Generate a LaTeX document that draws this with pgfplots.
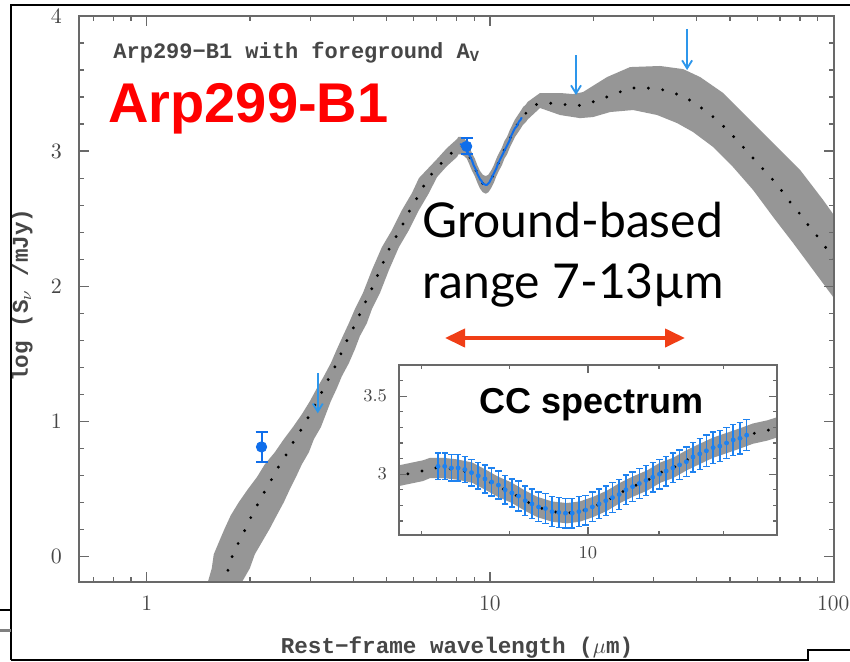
\documentclass[border=0pt]{standalone}
\usepackage{pgfplots}
\pgfplotsset{compat=1.18}
\usepackage{pgfplotstable}
\usetikzlibrary{arrows.meta}
\usepackage{fontspec}
\newfontfamily\monofont{Liberation Mono}
\newfontfamily\arialfont{Liberation Sans}
\newfontfamily\gillfont{Lato}
\definecolor{bandgray}{RGB}{150,150,150}
\definecolor{axgray}{RGB}{105,105,105}
\definecolor{ptblue}{RGB}{15,110,235}
\definecolor{arrblue}{RGB}{45,150,235}
\definecolor{errblue}{RGB}{30,130,240}
\definecolor{arrred}{RGB}{240,62,22}
\definecolor{txtgray}{RGB}{70,70,70}

% model: central (dotted) curve
\pgfplotstableread{
x y
1.600 -0.300
1.666 -0.193
1.734 -0.089
1.781 0.015
1.854 0.104
1.944 0.207
2.024 0.304
2.121 0.400
2.223 0.496
2.330 0.585
2.442 0.681
2.577 0.770
2.701 0.867
2.850 0.956
2.987 1.052
3.131 1.148
3.281 1.244
3.417 1.333
3.580 1.430
3.727 1.533
3.881 1.630
4.068 1.726
4.235 1.830
4.468 1.948
4.778 2.119
5.110 2.289
5.466 2.415
5.845 2.563
6.251 2.689
6.597 2.800
7.007 2.874
7.491 2.956
8.013 3.022
8.09 3.04
8.23 3.04
8.39 3.03
8.56 3.01
8.73 2.96
8.86 2.92
9.03 2.88
9.19 2.83
9.34 2.79
9.53 2.76
9.72 2.75
9.89 2.76
10.07 2.79
10.26 2.83
10.44 2.88
10.62 2.92
10.83 2.96
11.02 3.01
11.21 3.04
11.42 3.09
11.62 3.13
11.83 3.17
12.05 3.20
12.27 3.23
12.48 3.26
12.72 3.28
12.89 3.30
13.35 3.341
14.66 3.356
16.21 3.348
17.81 3.333
19.56 3.356
21.50 3.393
23.46 3.430
25.77 3.467
28.50 3.467
31.30 3.459
34.40 3.430
37.78 3.385
40.95 3.326
44.39 3.259
47.47 3.193
51.10 3.111
54.66 3.030
58.04 2.956
62.09 2.874
66.41 2.793
70.55 2.711
74.93 2.622
79.59 2.541
84.54 2.452
89.82 2.370
95.41 2.281
101.4 2.193
}\modelmid

% model: uncertainty band, upper edge left to right then lower edge right to left
\pgfplotstableread{
x y
1.430 -0.400
1.506 -0.193
1.547 -0.089
1.568 0.015
1.622 0.104
1.688 0.207
1.758 0.304
1.854 0.400
1.970 0.496
2.093 0.585
2.208 0.681
2.361 0.770
2.508 0.867
2.665 0.956
2.831 1.052
2.987 1.148
3.131 1.244
3.281 1.333
3.438 1.430
3.580 1.533
3.727 1.630
3.881 1.726
4.041 1.830
4.263 1.948
4.529 2.119
4.843 2.289
5.180 2.415
5.539 2.563
5.924 2.689
6.209 2.800
7.007 2.941
7.491 3.022
8.013 3.089
8.09 3.105
8.23 3.105
8.39 3.095
8.56 3.075
8.73 3.025
8.86 2.985
9.03 2.945
9.19 2.895
9.34 2.855
9.53 2.825
9.72 2.815
9.89 2.825
10.07 2.855
10.26 2.895
10.44 2.945
10.62 2.985
10.83 3.025
11.02 3.075
11.21 3.105
11.42 3.155
11.62 3.195
11.83 3.235
12.05 3.265
12.27 3.295
12.48 3.325
12.72 3.345
12.89 3.365
13.99 3.430
16.00 3.430
17.46 3.422
18.67 3.437
21.93 3.548
25.60 3.622
31.30 3.630
36.53 3.607
40.95 3.548
47.79 3.430
56.15 3.252
66.86 3.059
80.13 2.859
93.49 2.637
101.4 2.511
106 2.44
106 1.80
100.0 1.919
87.42 2.119
76.44 2.319
66.86 2.511
58.46 2.711
51.10 2.881
44.68 3.030
39.07 3.141
35.10 3.207
30.69 3.267
26.12 3.304
22.38 3.289
19.97 3.252
18.30 3.244
16.00 3.267
13.99 3.319
12.89 3.235
12.72 3.215
12.48 3.195
12.27 3.165
12.05 3.135
11.83 3.105
11.62 3.065
11.42 3.025
11.21 2.975
11.02 2.945
10.83 2.895
10.62 2.855
10.44 2.815
10.26 2.765
10.07 2.725
9.89 2.695
9.72 2.685
9.53 2.695
9.34 2.725
9.19 2.765
9.03 2.815
8.86 2.855
8.73 2.895
8.56 2.945
8.39 2.965
8.23 2.975
8.09 2.975
8.013 2.956
7.491 2.889
7.007 2.807
6.639 2.689
6.209 2.563
5.805 2.415
5.429 2.289
5.076 2.119
4.778 1.948
4.529 1.830
4.379 1.726
4.178 1.630
4.041 1.533
3.881 1.430
3.702 1.333
3.580 1.244
3.438 1.148
3.326 1.052
3.216 0.956
3.069 0.867
2.967 0.770
2.831 0.681
2.719 0.585
2.611 0.496
2.508 0.400
2.393 0.304
2.285 0.207
2.164 0.104
2.065 0.015
1.997 -0.089
1.892 -0.193
1.685 -0.400
}\modelband

% CC spectrum (ground-based)
\pgfplotstableread{
x y e
8.176 3.05 0.085
8.250 3.05 0.085
8.325 3.04 0.085
8.400 3.04 0.085
8.476 3.03 0.085
8.553 3.01 0.085
8.630 2.99 0.085
8.708 2.97 0.09
8.787 2.95 0.09
8.867 2.93 0.09
8.947 2.90 0.09
9.028 2.88 0.09
9.110 2.86 0.095
9.192 2.83 0.095
9.275 2.81 0.095
9.359 2.79 0.095
9.444 2.78 0.095
9.529 2.76 0.095
9.616 2.755 0.095
9.703 2.75 0.095
9.791 2.75 0.095
9.879 2.76 0.095
9.969 2.77 0.095
10.059 2.79 0.095
10.150 2.81 0.095
10.242 2.83 0.095
10.335 2.85 0.095
10.428 2.87 0.095
10.523 2.90 0.095
10.618 2.92 0.095
10.714 2.94 0.095
10.811 2.96 0.095
10.909 2.98 0.095
11.008 3.00 0.095
11.107 3.02 0.095
11.208 3.04 0.095
11.309 3.06 0.095
11.412 3.08 0.095
11.515 3.11 0.095
11.619 3.13 0.1
11.724 3.15 0.1
11.830 3.17 0.1
11.937 3.18 0.1
12.045 3.20 0.1
12.154 3.22 0.1
12.264 3.23 0.1
12.375 3.25 0.1
}\ccdata

\begin{document}
\begin{tikzpicture}[x=1pt,y=1pt]
\useasboundingbox (0,0) rectangle (425,330.5);
\fill[white] (0,0) rectangle (425,330.5);

\begin{axis}[
  at={(39.5pt,39.5pt)}, anchor=south west, scale only axis,
  width=377.5pt, height=283pt,
  xmode=log, xmin=0.635, xmax=100.5, ymin=-0.19, ymax=4,
  xtick={1,10,100}, xticklabels={1,10,100},
  minor xtick={0.7,0.8,0.9,2,3,4,5,6,7,8,9,20,30,40,50,60,70,80,90},
  ytick={0,1,2,3,4}, minor y tick num=4,
  xtick pos=both, ytick pos=both, tick align=inside,
  major tick length=5pt, minor tick length=2.5pt,
  axis line style={axgray, line width=0.8pt},
  every tick/.style={axgray, line width=0.6pt},
  tick label style={font=\fontsize{11}{13}\selectfont, text=txtgray},
  xticklabel shift=3.5pt, yticklabel shift=5pt,
  axis on top,
]
\addplot[fill=bandgray, draw=none] table {\modelband} -- cycle;
\addplot[black, line width=1.6pt, line cap=round, dash pattern=on 0pt off 7.2pt] table {\modelmid};
\addplot[ptblue, line width=1pt] table {\ccdata};
\addplot[ptblue, only marks, mark=*, mark size=2.6pt,
  error bars/.cd, y dir=both, y explicit,
  error mark options={ptblue, mark size=3pt, line width=1pt, rotate=90},
  error bar style={ptblue, line width=1pt}]
  coordinates {(2.160,0.810) +- (0,0.11) (8.55,3.035) +- (0,0.06)};
\addplot[arrblue, line width=0.9pt, -{Straight Barb[length=4pt,width=5pt]}] coordinates {(3.15,1.356) (3.15,1.059)};
\addplot[arrblue, line width=0.9pt, -{Straight Barb[length=4pt,width=5pt]}] coordinates {(17.81,3.711) (17.81,3.415)};
\addplot[arrblue, line width=0.9pt, -{Straight Barb[length=4pt,width=5pt]}] coordinates {(37.53,3.904) (37.53,3.600)};
\end{axis}

\node[anchor=base west, inner sep=0, font=\monofont\bfseries\fontsize{11}{13}\selectfont, text=txtgray] at (56.5,301.5) {Arp299−B1 with foreground A\textsubscript{V}};
\node[anchor=base west, inner sep=0, font=\arialfont\bfseries\fontsize{28}{30}\selectfont, text=red] at (54,269.5) {Arp299-B1};
\node[anchor=base west, inner sep=0, font=\gillfont\fontsize{24}{28}\selectfont] at (211,212) {Ground-based};
\node[anchor=base west, inner sep=0, font=\gillfont\fontsize{24}{28}\selectfont] at (211,181.5) {range 7-13µm};
\draw[arrred, line width=2pt, {Triangle[length=10pt,width=9pt]}-{Triangle[length=10pt,width=9pt]}] (222.5,161.5) -- (342.5,161.5);

\begin{axis}[
  at={(199.5pt,63pt)}, anchor=south west, scale only axis,
  width=189pt, height=85pt,
  xmode=log, xmin=7.76, xmax=12.89, ymin=2.61, ymax=3.70,
  xtick={10}, xticklabels={10}, minor xtick={8,9,11,12},
  ytick={3,3.5}, yticklabels={3,3.5},
  minor ytick={2.7,2.8,2.9,3.1,3.2,3.3,3.4,3.6},
  xtick pos=both, ytick pos=both, tick align=inside,
  major tick length=4pt, minor tick length=2pt,
  axis line style={axgray, line width=0.8pt},
  every tick/.style={axgray, line width=0.6pt},
  tick label style={font=\fontsize{9}{11}\selectfont, text=txtgray},
  xticklabel shift=2.4pt, yticklabel shift=2.5pt,
  axis background/.style={fill=white},
  axis on top,
]
\addplot[fill=bandgray, draw=none] table {\modelband} -- cycle;
\addplot[errblue, only marks, mark=*, mark size=1pt,
  error bars/.cd, y dir=both, y explicit,
  error mark options={errblue, mark size=1.6pt, line width=0.7pt, rotate=90},
  error bar style={errblue, line width=0.8pt}]
  table[y error=e] {\ccdata};
\addplot[black, line width=1.6pt, line cap=round, dash pattern=on 0pt off 7.2pt] table {\modelmid};
\end{axis}
\node[anchor=base, inner sep=0, font=\arialfont\bfseries\fontsize{18}{20}\selectfont] at (296,124) {CC spectrum};

\node[anchor=base, inner sep=0, font=\monofont\bfseries\fontsize{11.3}{13}\selectfont, text=txtgray] at (228.5,4) {Rest−frame wavelength ($\mu$m)};
\node[rotate=90, anchor=center, inner sep=0, font=\monofont\bfseries\fontsize{11.3}{13}\selectfont, text=txtgray] at (11,183) {log (S$_\nu$ /mJy)};

\draw[black, line width=1pt] (5.5,0.5) -- (5.5,328) -- (425,328);
\draw[black, line width=1pt] (5.5,0.5) -- (404,0.5) -- (404,5.5) -- (425,5.5);
\draw[black, line width=1pt] (0,25.5) -- (5.5,25.5);
\draw[gray, line width=1.5pt] (0,15.5) -- (5.5,15.5);
\end{tikzpicture}
\end{document}
